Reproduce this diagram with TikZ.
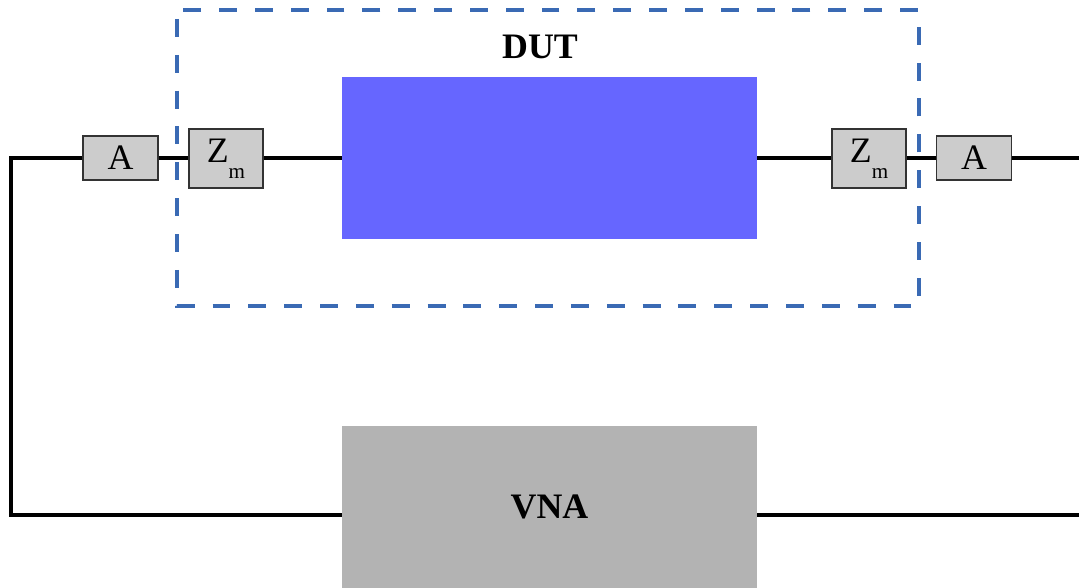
\documentclass[tikz,border=0pt]{standalone}
\usepackage{fontspec}
\setmainfont{Liberation Serif}
\usetikzlibrary{positioning}
\definecolor{framecol}{HTML}{3A6AB4}
\definecolor{dutfill}{HTML}{6666FF}
\definecolor{vnafill}{HTML}{B3B3B3}
\definecolor{boxfill}{HTML}{CCCCCC}
\newcommand{\zmatch}{Z\raisebox{-0.32cm}{\fontsize{12}{12}\selectfont m}}

\begin{document}
\begin{tikzpicture}[x=0.02cm, y=-0.02cm,
    every node/.style={font=\fontsize{20.4}{24}\selectfont},
    wire/.style={line width=2.4pt, black, line join=miter},
    frame/.style={draw=framecol, line width=2pt, dash pattern=on 10.2pt off 10.2pt, dash phase=15.3pt},
    smallbox/.style={
      draw=black!80, fill=boxfill, line width=0.7pt, inner sep=0pt,
      minimum width=1.5cm, minimum height=0.88cm
    },
    zbox/.style={smallbox, minimum width=1.48cm, minimum height=1.18cm},
    bigbox/.style={inner sep=0pt, minimum width=8.3cm, minimum height=3.26cm},
    heading/.style={font=\fontsize{20.4}{24}\selectfont\bfseries}
]
  \useasboundingbox (0,0) rectangle (1079,588);

  % dashed DUT frame
  \draw[frame] (177,10) rectangle (919,306);
  \node[heading] (duttitle) at (540,47) {DUT};

  \node[bigbox, fill=dutfill] (dut) at (549.5,158) {};
  \node[bigbox, fill=vnafill, minimum height=3.24cm, heading] (vna) at (549.5,507) {VNA};

  \node[smallbox] (al) at (120.5,158) {A};
  \node[zbox] (zl) at (226,158.5) {\zmatch};
  \node[zbox] (zr) at (869,158.5) {\zmatch};
  \node[smallbox] (ar) at (974,158) {A};

  \coordinate (lt) at (11,158);
  \coordinate (lb) at (11,515);
  \coordinate (rt) at (1079,158);
  \coordinate (rb) at (1079,515);

  % wiring
  \draw[wire] (al.west) -- (lt) -- (lb) -- (vna.west |- lb);
  \draw[wire] (al.east) -- (zl.west |- al.east);
  \draw[wire] (zl.east |- dut.west) -- (dut.west);
  \draw[wire] (dut.east) -- (zr.west |- dut.east);
  \draw[wire] (zr.east |- ar.west) -- (ar.west);
  \draw[wire] (ar.east) -- (rt);
  \draw[wire] (vna.east |- rb) -- (rb);
\end{tikzpicture}
\end{document}
